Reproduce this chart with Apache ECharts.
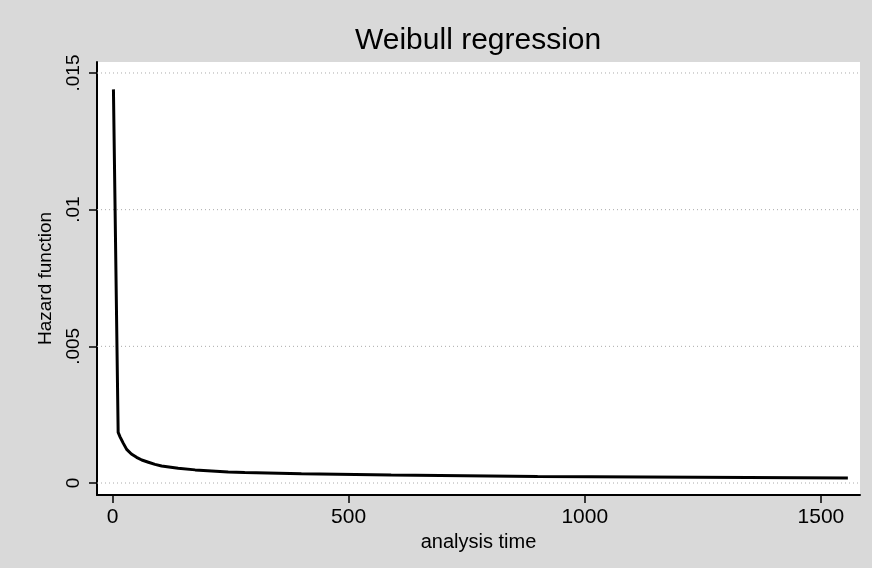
<!DOCTYPE html>
<html>
<head>
<meta charset="utf-8">
<script src="https://cdn.jsdelivr.net/npm/echarts@6/dist/echarts.min.js"></script>
<style>
  html, body { margin: 0; padding: 0; background: #d9d9d9; }
  #main { width: 872px; height: 568px; }
</style>
</head>
<body>
<div id="main"></div>
<script>
// hazard
const times = [2, 12, 16, 23, 30, 40, 51, 62, 76, 90, 104, 139, 175, 210, 245, 280, 400, 590, 900, 1240, 1557];
const hazard = [0.0144, 0.00185, 0.00169, 0.00145, 0.00123, 0.00106, 0.00094, 0.00084, 0.00076, 0.00068, 0.00062,
  0.00054, 0.00048, 0.00044, 0.0004, 0.00038, 0.00034, 0.00029, 0.00024, 0.00021, 0.00018];
const xTicks = [0, 500, 1000, 1500];
const yTicks = [0, 0.005, 0.01, 0.015];
const yTickLabels = ['0', '.005', '.01', '.015'];

const xMin = -32.8, xMax = 1582.7;
const font = 'Liberation Sans, Arial, sans-serif';
const chart = echarts.init(document.getElementById('main'));

// dotted grid lines at each y tick, across the whole x range
const gridSeries = yTicks.map(v => ({
  type: 'line',
  data: [[xMin, v], [xMax, v]],
  showSymbol: false,
  silent: true,
  z: 1,
  lineStyle: { color: '#aaa', type: [1, 3], width: 1 }
}));

chart.setOption({
  backgroundColor: '#d9d9d9',
  animation: false,
  title: {
    text: 'Weibull regression',
    left: 350,
    top: 21,
    textStyle: { fontFamily: font, fontSize: 30, fontWeight: 'normal', color: '#000' }
  },
  grid: {
    left: 97, right: 12, top: 62, bottom: 73,
    show: true, backgroundColor: '#fff', borderWidth: 0
  },
  xAxis: {
    type: 'value',
    min: xMin,
    max: xMax,
    name: 'analysis time',
    nameLocation: 'middle',
    nameGap: 30,
    nameTextStyle: { fontFamily: font, fontSize: 20, color: '#000' },
    axisLine: { show: true, onZero: false, lineStyle: { color: '#000', width: 2 } },
    axisTick: { show: true, length: 8, customValues: xTicks, lineStyle: { color: '#000', width: 1.5 } },
    axisLabel: {
      customValues: xTicks, margin: 12, fontFamily: font, fontSize: 21, color: '#000',
      formatter: v => String(Math.round(v))
    },
    splitLine: { show: false }
  },
  yAxis: {
    type: 'value',
    min: -0.000439,
    max: 0.015402,
    name: 'Hazard function',
    nameLocation: 'middle',
    nameGap: 42,
    nameRotate: 90,
    nameTextStyle: { fontFamily: font, fontSize: 19, color: '#000' },
    axisLine: { show: true, onZero: false, lineStyle: { color: '#000', width: 2 } },
    axisTick: { show: true, length: 8, customValues: yTicks, lineStyle: { color: '#000', width: 1.5 } },
    axisLabel: {
      customValues: yTicks,
      rotate: 90,
      margin: 14,
      fontFamily: font, fontSize: 19, color: '#000',
      formatter: function (v) {
        const i = yTicks.findIndex(t => Math.abs(t - v) < 1e-9);
        return i >= 0 ? yTickLabels[i] : '';
      }
    },
    splitLine: { show: false }
  },
  series: gridSeries.concat([{
    type: 'line',
    data: times.map((t, i) => [t, hazard[i]]),
    showSymbol: false,
    z: 3,
    lineStyle: { color: '#000', width: 3 }
  }])
});
</script>
</body>
</html>
